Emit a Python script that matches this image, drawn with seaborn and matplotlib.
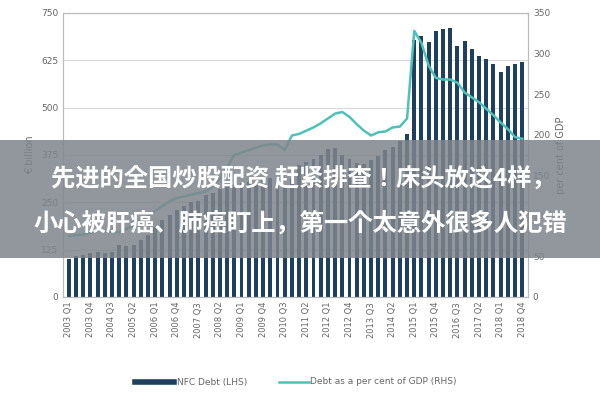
import numpy as np
import pandas as pd
import matplotlib.pyplot as plt
import seaborn as sns
from matplotlib import font_manager
from matplotlib.patches import Rectangle

quarters = [f"{y} Q{q}" for y in range(2003, 2019) for q in range(1, 5)]

nfc_debt = [100, 107, 110, 116, 120, 116, 120, 138, 136, 138, 151, 163, 185, 204, 217, 230,
            239, 250, 253, 269, 275, 285, 290, 295, 300, 305, 300, 310, 315, 320, 290, 315,
            348, 357, 365, 376, 390, 393, 376, 365, 355, 352, 361, 372, 387, 396, 413, 431,
            680, 690, 673, 702, 708, 710, 662, 676, 654, 636, 629, 616, 593, 610, 614, 621]

debt_pct_gdp = [75, 76, 77, 79, 82, 82, 80, 80, 84, 88, 94, 100, 106, 112, 118, 122,
                124, 126, 128, 130, 136, 146, 160, 175, 178, 181, 184, 187, 188, 188, 181, 199,
                201, 205, 209, 214, 220, 226, 228, 222, 213, 205, 199, 203, 204, 209, 210, 220,
                328, 313, 285, 270, 268, 268, 264, 252, 246, 240, 232, 224, 215, 207, 197, 195]

left_ticks = [0, 125, 250, 375, 500, 625, 750]
right_ticks = [0, 50, 100, 150, 200, 250, 300, 350]

df = pd.DataFrame({"quarter": quarters, "debt": nfc_debt, "pct": debt_pct_gdp,
                   "idx": range(len(quarters))})

bar_color = "#1e3f5e"
line_color = "#4fc1b8"
txt = "#666666"

# find a CJK font file
cjk = None
for f in font_manager.findSystemFonts():
    if "NotoSansCJK" in f.replace(" ", "") and ("Bold" in f or cjk is None):
        cjk = f
        if "Bold" in f:
            break
cjk_prop = font_manager.FontProperties(fname=cjk, size=17.5, weight="bold") if cjk else \
    font_manager.FontProperties(family="Noto Sans CJK SC", size=17.5, weight="bold")

fig = plt.figure(figsize=(6, 4), dpi=100)
ax = fig.add_axes([0.105, 0.2575, 0.775, 0.71])
sns.barplot(data=df, x="quarter", y="debt", color=bar_color, width=0.55,
            saturation=1, ax=ax)
ax.set_ylim(0, 750)
ax.set_yticks(left_ticks)
ax.set_xlim(-0.8, len(quarters) - 0.2)
ax.set_xticks(range(0, len(quarters), 3))
ax.set_xticklabels(quarters[::3], rotation=90, fontsize=6, color=txt)
ax.tick_params(axis="y", labelsize=6.5, colors=txt, length=0)
ax.tick_params(axis="x", length=0)
ax.set_xlabel("")
ax.set_ylabel("€ billion", fontsize=7, color=txt)
ax.grid(axis="y", color="#d9d9d9", lw=0.8)
ax.set_axisbelow(True)
for s in ax.spines.values():
    s.set_color("#bbbbbb")

ax2 = ax.twinx()
sns.lineplot(data=df, x="idx", y="pct", color=line_color, lw=1.8, ax=ax2)
ax2.set_ylim(0, 350)
ax2.set_yticks(right_ticks)
ax2.tick_params(axis="y", labelsize=6.5, colors=txt, length=0)
ax2.set_ylabel("per cent of GDP", fontsize=7, color=txt)
ax2.set_xlabel("")
for s in ax2.spines.values():
    s.set_color("#bbbbbb")

# legend
fig.lines.append(plt.Line2D([0.225, 0.29], [0.045, 0.045], color=bar_color, lw=4,
                            transform=fig.transFigure))
fig.text(0.295, 0.045, "NFC Debt (LHS)", fontsize=6.5, color=txt, va="center")
fig.lines.append(plt.Line2D([0.465, 0.515], [0.045, 0.045], color=line_color, lw=1.8,
                            transform=fig.transFigure))
fig.text(0.517, 0.045, "Debt as a per cent of GDP (RHS)", fontsize=6.5, color=txt, va="center")

# overlay banner
fig.patches.append(Rectangle((0, 0.355), 1, 0.295, transform=fig.transFigure,
                             facecolor="#7f858c", alpha=0.85, zorder=10))
fig.text(0.505, 0.55, "先进的全国炒股配资 赶紧排查！床头放这4样，",
         fontproperties=cjk_prop, color="white", ha="center", va="center", zorder=11)
fig.text(0.5, 0.44, "小心被肝癌、肺癌盯上，第一个太意外很多人犯错",
         fontproperties=cjk_prop, color="white", ha="center", va="center", zorder=11)

fig.savefig("out.png", dpi=100)
